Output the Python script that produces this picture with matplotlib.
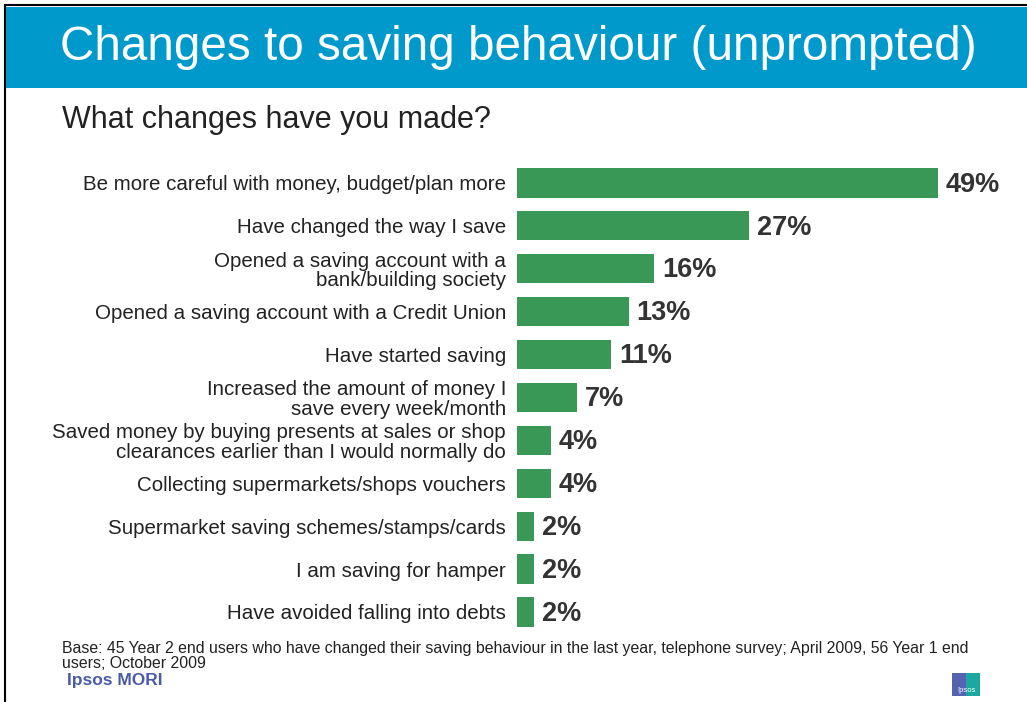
import matplotlib.pyplot as plt
from matplotlib.patches import Rectangle
from matplotlib.lines import Line2D

plt.rcParams['font.family'] = ['Liberation Sans', 'DejaVu Sans']

categories = [
    'Be more careful with money, budget/plan more',
    'Have changed the way I save',
    'Opened a saving account with a\nbank/building society',
    'Opened a saving account with a Credit Union',
    'Have started saving',
    'Increased the amount of money I\nsave every week/month',
    'Saved money by buying presents at sales or shop\nclearances earlier than I would normally do',
    'Collecting supermarkets/shops vouchers',
    'Supermarket saving schemes/stamps/cards',
    'I am saving for hamper',
    'Have avoided falling into debts',
]
values = [49, 27, 16, 13, 11, 7, 4, 4, 2, 2, 2]

W, H = 1027, 702
fig = plt.figure(figsize=(W / 100, H / 100), dpi=100)

# header band and frame lines
fig.patches.append(Rectangle((6 / W, 1 - 88 / H), 1, 81 / H, transform=fig.transFigure,
                             facecolor='#0099CC', edgecolor='none', zorder=0))
fig.add_artist(Line2D([5 / W, 5 / W], [0, 1 - 5 / H], color='black', lw=1.5))
fig.add_artist(Line2D([5 / W, 1], [1 - 5 / H, 1 - 5 / H], color='black', lw=1.5))

fig.text(60 / W, 1 - 48 / H, 'Changes to saving behaviour (unprompted)', color='white',
         fontsize=34.3, va='center', ha='left')
fig.text(62 / W, 1 - 120 / H, 'What changes have you made?', color='#222222',
         fontsize=22, va='center', ha='left')

# bar area
scale = 8.59  # px per percent
xmax = 58
ax_left, ax_top, ax_h = 517, 161.5, 11 * 42.9
ax = fig.add_axes([ax_left / W, 1 - (ax_top + ax_h) / H, xmax * scale / W, ax_h / H])
ax.set_xlim(0, xmax)
ax.set_ylim(len(values) - 0.5, -0.5)
ypos = list(range(len(values)))
ax.barh(ypos, values, height=0.68, color='#3A9856', edgecolor='none')
for y, v in zip(ypos, values):
    ax.text(v + 0.9, y + 0.04, f'{v}%', va='center', ha='left', fontsize=19.5,
            fontweight='bold', color='#333333')
ax.set_yticks(ypos)
ax.set_yticklabels(categories, fontsize=14.8, color='#222222', linespacing=1.02)
ax.tick_params(axis='y', length=0, pad=8)
ax.set_xticks([])
for s in ax.spines.values():
    s.set_visible(False)
ax.patch.set_visible(False)

fig.text(62 / W, 1 - 648 / H, 'Base: 45 Year 2 end users who have changed their saving behaviour '
         'in the last year, telephone survey; April 2009, 56 Year 1 end', fontsize=11.4,
         color='#222222', va='center')
fig.text(62 / W, 1 - 664 / H, 'users; October 2009', fontsize=11.4, color='#222222', va='center')
fig.text(67 / W, 1 - 680 / H, 'Ipsos MORI', fontsize=12.5, fontweight='bold',
         color='#4B5BA6', va='center')

# small logo bottom right
fig.patches.append(Rectangle((952 / W, 1 - 696 / H), 14 / W, 23 / H, transform=fig.transFigure,
                             facecolor='#5562B0', edgecolor='none'))
fig.patches.append(Rectangle((966 / W, 1 - 696 / H), 14 / W, 23 / H, transform=fig.transFigure,
                             facecolor='#1AA8A0', edgecolor='none'))
fig.text(966 / W, 1 - 690 / H, 'Ipsos', fontsize=5.5, color='white', ha='center', va='center')

fig.savefig('out.png', dpi=100, facecolor='white')
